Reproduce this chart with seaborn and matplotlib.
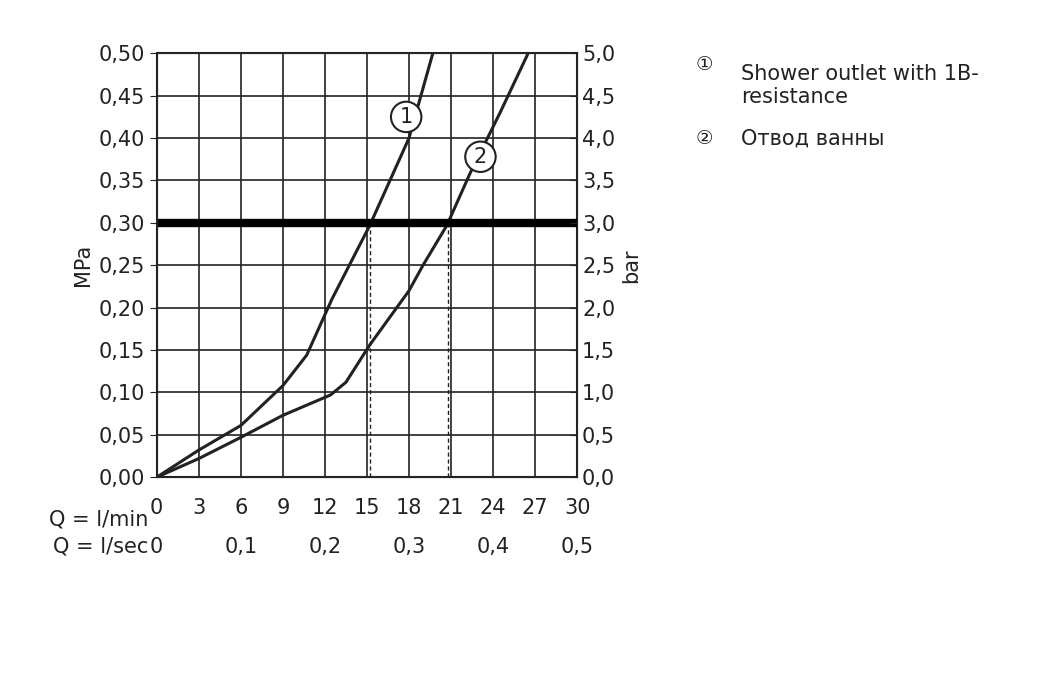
import matplotlib
matplotlib.use("Agg")
import matplotlib.pyplot as plt
import seaborn as sns
import pandas as pd

q1 = [0, 3, 6, 9, 10.7, 12.5, 15.2, 18, 19.7]
p1 = [0, 0.032, 0.061, 0.108, 0.144, 0.21, 0.297, 0.40, 0.50]
q2 = [0, 3, 6, 9, 12.4, 13.5, 15.2, 18, 19, 20.7, 22.4, 24.5, 26.5]
p2 = [0, 0.022, 0.047, 0.073, 0.097, 0.112, 0.156, 0.22, 0.25, 0.297, 0.36, 0.43, 0.50]
dash_q = [15.2, 20.8]
ref_p = 0.30
xticks_min = [0, 3, 6, 9, 12, 15, 18, 21, 24, 27, 30]
sec_labels = ["0", "0,1", "0,2", "0,3", "0,4", "0,5"]
sec_pos = [0, 6, 12, 18, 24, 30]
yticks = [0, 0.05, 0.10, 0.15, 0.20, 0.25, 0.30, 0.35, 0.40, 0.45, 0.50]
ylabels = ["0,00", "0,05", "0,10", "0,15", "0,20", "0,25", "0,30", "0,35", "0,40", "0,45", "0,50"]
barlabels = ["0,0", "0,5", "1,0", "1,5", "2,0", "2,5", "3,0", "3,5", "4,0", "4,5", "5,0"]
legend_items = ["Shower outlet with 1B-\nresistance", "Отвод ванны"]

sns.set_style("white")
plt.rcParams['font.family'] = ['DejaVu Sans', 'Noto Sans CJK SC']
fig = plt.figure(figsize=(10.59, 6.75), dpi=100)
ax = fig.add_axes([0.148, 0.293, 0.397, 0.628])
c = "#222222"
df = pd.concat([pd.DataFrame({"q": q1, "p": p1, "s": "1"}), pd.DataFrame({"q": q2, "p": p2, "s": "2"})])
sns.lineplot(data=df, x="q", y="p", units="s", estimator=None, color=c, lw=2.2, ax=ax, sort=False)
ax.axhline(ref_p, color="black", lw=6, zorder=5)
for d in dash_q:
    ax.plot([d, d], [0, ref_p], ls=(0, (3, 2)), color=c, lw=1)
ax.set_xlim(0, 30); ax.set_ylim(0, 0.5)
ax.set_xticks(xticks_min); ax.set_yticks(yticks)
ax.grid(True, color=c, lw=1.2)
ax.set_xticklabels([str(v) for v in xticks_min], fontsize=15, color=c)
ax.set_yticklabels(ylabels, fontsize=15, color=c)
ax.tick_params(axis="both", length=5, color=c, direction="out", left=True, bottom=False)
ax.tick_params(axis="x", pad=10)
for s in ax.spines.values():
    s.set_color(c); s.set_linewidth(1.5)
ax.set_xlabel(""); ax.set_ylabel("MPa", fontsize=15, color=c)
ax2 = ax.twinx()
ax2.set_ylim(0, 0.5); ax2.set_yticks(yticks)
ax2.set_yticklabels(barlabels, fontsize=15, color=c)
ax2.tick_params(axis="y", length=5, color=c, direction="in")
ax2.set_ylabel("bar", fontsize=15, color=c)
ax.text(-0.6, -0.026 * 1.45, "Q = l/min", ha="right", va="top", fontsize=15, color=c, transform=ax.transData, clip_on=False)
ax.text(-0.6, -0.07, "Q = l/sec", ha="right", va="top", fontsize=15, color=c, clip_on=False)
for p, l in zip(sec_pos, sec_labels):
    ax.text(p, -0.07, l, ha="center", va="top", fontsize=15, color=c, clip_on=False)
for (x, y, t) in [(17.8, 0.425, "1"), (23.1, 0.378, "2")]:
    ax.text(x, y, t, ha="center", va="center", fontsize=15, color=c, zorder=6,
            bbox=dict(boxstyle="circle,pad=0.25", fc="white", ec=c, lw=1.5))
fig.text(0.657, 0.905, "①", fontsize=14, color=c, va="center")
fig.text(0.700, 0.905, legend_items[0], fontsize=15, color=c, va="top", linespacing=1.2)
fig.text(0.657, 0.795, "②", fontsize=14, color=c, va="center")
fig.text(0.700, 0.795, legend_items[1], fontsize=15, color=c, va="center")
fig.savefig("out.png", dpi=100)
